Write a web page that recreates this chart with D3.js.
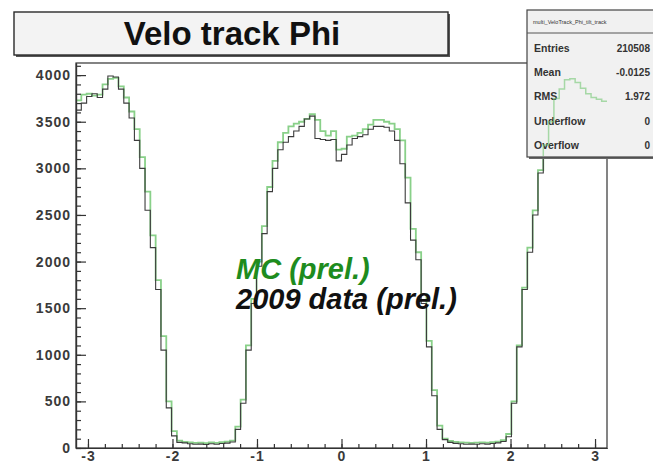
<!DOCTYPE html>
<html lang="en">
<head>
<meta charset="UTF-8">
<title>Velo track Phi</title>
<script src="https://d3js.org/d3.v7.min.js"></script>
<style>
  body { margin: 0; background: #fff; }
  svg { display: block; }
  .axis path, .axis line { stroke: #333; stroke-width: 1.2; }
  .axis text { fill: #3a3a3a; font-family: "Liberation Sans", Arial, sans-serif; font-weight: bold; font-size: 14px; letter-spacing: 1px; }
  .stats text { font-family: "Liberation Sans", Arial, sans-serif; fill: #333; }
</style>
</head>
<body>
<script>
// phi histogram, 100 bins over [-pi, pi]
const binCount = 100;
const phiRange = [-Math.PI, Math.PI];

// 2009 data (dark line)
const dataCounts = [
  3625, 3700, 3770, 3800, 3760, 3850, 3990, 3980, 3850, 3700,
  3540, 3300, 3000, 2550, 2150, 1700, 1050, 430, 130, 60,
  55, 45, 40, 42, 38, 45, 40, 48, 52, 65,
  200, 480, 1050, 1550, 1950, 2300, 2750, 3000, 3200, 3280,
  3340, 3400, 3450, 3530, 3560, 3320, 3310, 3300, 3310, 3080,
  3150, 3250, 3320, 3340, 3360, 3420, 3450, 3450, 3440, 3400,
  3300, 3050, 2630, 2230, 2020, 1550, 1085, 560, 200, 90,
  60, 50, 45, 40, 42, 40, 45, 42, 48, 55,
  70, 120, 480, 1085, 1700, 2100, 2500, 2950, 3150, 3450,
  3700, 3830, 3930, 3950, 3900, 3850, 3780, 3750, 3720, 3700
];

// MC (green line)
const mcCounts = [
  3730, 3790, 3800, 3780, 3790, 3900, 3960, 3970, 3880, 3760,
  3610, 3420, 3120, 2750, 2280, 1800, 1200, 500, 180, 80,
  65, 60, 55, 58, 52, 60, 55, 62, 68, 80,
  230, 520, 1100, 1600, 2000, 2380, 2800, 3080, 3280, 3380,
  3450, 3480, 3500, 3530, 3580, 3520, 3400, 3350, 3400, 3200,
  3210, 3340, 3350, 3380, 3420, 3470, 3520, 3520, 3500, 3480,
  3420, 3300, 2900, 2350, 2100, 1650, 1150, 620, 240, 100,
  75, 65, 60, 58, 55, 58, 60, 58, 62, 68,
  85, 150, 500, 1100, 1720, 2150, 2550, 2980, 3250, 3500,
  3750, 3850, 3950, 3960, 3920, 3860, 3800, 3760, 3740, 3720
];

const xTicks = [-3, -2, -1, 0, 1, 2, 3];
const yTicks = [0, 500, 1000, 1500, 2000, 2500, 3000, 3500, 4000];
const yMax = 4130;

const statsName = 'multi_VeloTrack_Phi_tilt_track';
const statsLabels = ['Entries', 'Mean', 'RMS', 'Underflow', 'Overflow'];
const statsValues = ['210508', '-0.0125', '1.972', '0', '0'];

const width = 653, height = 465;
const frame = { left: 76, right: 607, top: 63, bottom: 448 };

const svg = d3.select('body').append('svg').attr('width', width).attr('height', height);

const x = d3.scaleLinear().domain(phiRange).range([frame.left, frame.right]);
const y = d3.scaleLinear().domain([0, yMax]).range([frame.bottom, frame.top]);

// frame
svg.append('rect')
  .attr('x', frame.left).attr('y', frame.top)
  .attr('width', frame.right - frame.left).attr('height', frame.bottom - frame.top)
  .attr('fill', 'none').attr('stroke', '#333').attr('stroke-width', 1.2);

// histograms
const binW = (phiRange[1] - phiRange[0]) / binCount;
function stepPoints(counts) {
  const pts = counts.map((c, i) => [phiRange[0] + i * binW, c]);
  pts.push([phiRange[1], counts[counts.length - 1]]);
  return pts;
}
const line = d3.line().x(d => x(d[0])).y(d => y(d[1])).curve(d3.curveStepAfter);

svg.append('path').datum(stepPoints(mcCounts))
  .attr('d', line).attr('fill', 'none')
  .attr('stroke', '#74c874').attr('stroke-width', 1.8).attr('opacity', 0.85);

svg.append('path').datum(stepPoints(dataCounts))
  .attr('d', line).attr('fill', 'none')
  .attr('stroke', '#3c3c3c').attr('stroke-width', 1.1);

// axes (ROOT style, ticks inside)
const yMinor = d3.range(0, yMax, 100);
svg.append('g').attr('class', 'axis')
  .attr('transform', `translate(${frame.left},0)`)
  .call(d3.axisLeft(y).tickValues(yMinor).tickSize(-5).tickSizeOuter(0).tickFormat(''));
svg.append('g').attr('class', 'axis')
  .attr('transform', `translate(${frame.left},0)`)
  .call(d3.axisLeft(y).tickValues(yTicks).tickSize(-10).tickSizeOuter(0).tickPadding(5).tickFormat(d => String(d)));

const xMinor = d3.range(-3.2, 3.2, 0.2).filter(v => v >= phiRange[0] && v <= phiRange[1]);
svg.append('g').attr('class', 'axis')
  .attr('transform', `translate(0,${frame.bottom})`)
  .call(d3.axisBottom(x).tickValues(xMinor).tickSize(-4).tickSizeOuter(0).tickFormat(''));
svg.append('g').attr('class', 'axis')
  .attr('transform', `translate(0,${frame.bottom})`)
  .call(d3.axisBottom(x).tickValues(xTicks).tickSize(-9).tickSizeOuter(0).tickPadding(3).tickFormat(d => String(d)));

// title pave
svg.append('rect').attr('x', 16).attr('y', 14).attr('width', 434).attr('height', 43).attr('fill', '#555');
svg.append('rect').attr('x', 14).attr('y', 12).attr('width', 434).attr('height', 43)
  .attr('fill', '#f3f3f3').attr('stroke', '#2a2a2a').attr('stroke-width', 1.4);
svg.append('text').attr('x', 232).attr('y', 45)
  .attr('text-anchor', 'middle')
  .attr('font-family', '"Liberation Sans", Arial, sans-serif')
  .attr('font-weight', 'bold').attr('font-size', 33)
  .attr('fill', '#111')
  .text('Velo track Phi');

// stats box
const stats = svg.append('g').attr('class', 'stats');
stats.append('rect').attr('x', 529).attr('y', 12).attr('width', 140).attr('height', 147).attr('fill', '#666');
stats.append('rect').attr('x', 527).attr('y', 10).attr('width', 140).attr('height', 147)
  .attr('fill', '#f1f1f1').attr('stroke', '#444').attr('stroke-width', 1.2);
stats.append('line').attr('x1', 527).attr('x2', 667).attr('y1', 33).attr('y2', 33)
  .attr('stroke', '#555').attr('stroke-width', 1);
stats.append('text').attr('x', 533).attr('y', 24)
  .attr('font-size', 5.5).attr('fill', '#777').text(statsName);
statsLabels.forEach((lab, i) => {
  const yy = 52 + i * 24.2;
  stats.append('text').attr('x', 534).attr('y', yy)
    .attr('font-size', 10.5).attr('font-weight', 'bold').text(lab);
  stats.append('text').attr('x', 650).attr('y', yy).attr('text-anchor', 'end')
    .attr('font-size', 10).attr('font-weight', 'bold').text(statsValues[i]);
});

// MC curve faintly visible through the stats box
svg.append('clipPath').attr('id', 'statsClip')
  .append('rect').attr('x', 528).attr('y', 34).attr('width', 130).attr('height', 122);
svg.append('path').datum(stepPoints(mcCounts))
  .attr('d', line).attr('fill', 'none').attr('clip-path', 'url(#statsClip)')
  .attr('stroke', '#74c874').attr('stroke-width', 1.5).attr('opacity', 0.6);

// annotations
svg.append('text').attr('x', 236).attr('y', 279)
  .attr('font-family', '"Liberation Sans", Arial, sans-serif')
  .attr('font-weight', 'bold').attr('font-style', 'italic').attr('font-size', 29)
  .attr('fill', '#1e8c1e').text('MC (prel.)');
svg.append('text').attr('x', 236).attr('y', 309)
  .attr('font-family', '"Liberation Sans", Arial, sans-serif')
  .attr('font-weight', 'bold').attr('font-style', 'italic').attr('font-size', 29)
  .attr('fill', '#111').text('2009 data (prel.)');
</script>
</body>
</html>
